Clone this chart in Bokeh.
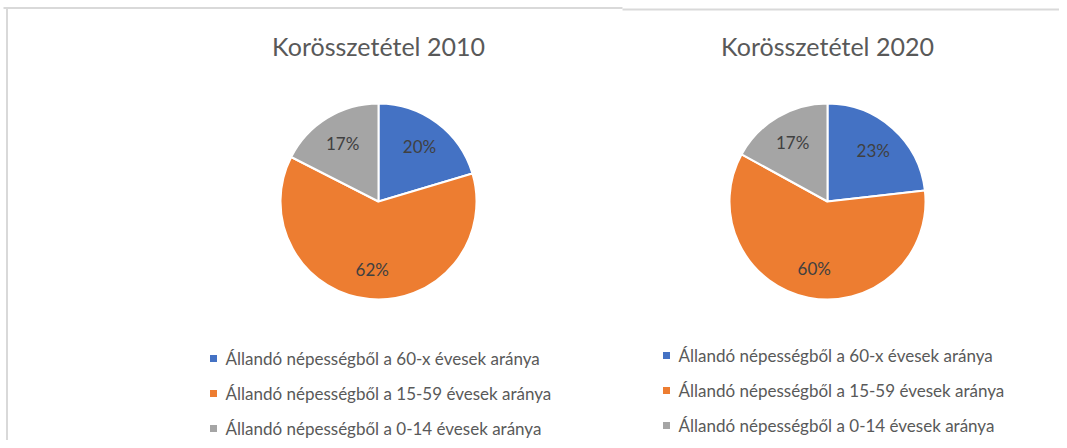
import math
from bokeh.plotting import figure
from bokeh.models import Range1d, ColumnDataSource
from bokeh.core.properties import value
from bokeh.embed import file_html
from bokeh.resources import INLINE

# ---- data ----
categories = [
    "Állandó népességből a 60-x évesek aránya",
    "Állandó népességből a 15-59 évesek aránya",
    "Állandó népességből a 0-14 évesek aránya",
]
colors = ["#4472C4", "#ED7D31", "#A5A5A5"]
titles = ["Korösszetétel 2010", "Korösszetétel 2020"]
values_2010 = [20.4, 62.1, 17.5]
values_2020 = [23.2, 59.8, 17.0]
labels_2010 = ["20%", "62%", "17%"]
labels_2020 = ["23%", "60%", "17%"]

W, H = 1059, 440

p = figure(width=W, height=H, output_backend="svg", toolbar_location=None,
           x_range=Range1d(0, W), y_range=Range1d(0, H),
           min_border=0, outline_line_color=None)
p.axis.visible = False
p.grid.visible = False
p.background_fill_color = "white"
p.border_fill_color = "white"

def Y(img_y):
    return H - img_y

FONT = value("Lato")
GREY_BORDER = "#D9D9D9"

# chart frames (light grey borders)
p.line(x=[3, 622], y=[Y(7.5), Y(7.5)], line_color=GREY_BORDER, line_width=2)
p.line(x=[622, 1067], y=[Y(9), Y(9)], line_color=GREY_BORDER, line_width=2)
p.line(x=[6.5, 6.5], y=[Y(7.5), Y(448)], line_color=GREY_BORDER, line_width=2)

charts = [
    dict(cx=378, cy=201, title=titles[0], vals=values_2010, labs=labels_2010, leg_x=213, leg_y=358),
    dict(cx=827, cy=201, title=titles[1], vals=values_2020, labs=labels_2020, leg_x=666, leg_y=355),
]
R = 98

for ch in charts:
    vals = ch["vals"]
    total = sum(vals)
    cum = 0.0
    starts, ends, lx, ly = [], [], [], []
    for v in vals:
        f0 = cum / total
        cum += v
        f1 = cum / total
        a0 = math.pi / 2 - f0 * 2 * math.pi
        a1 = math.pi / 2 - f1 * 2 * math.pi
        starts.append(a0)
        ends.append(a1)
        mid = (a0 + a1) / 2
        lx.append(ch["cx"] + 0.70 * R * math.cos(mid))
        ly.append(Y(ch["cy"]) + 0.70 * R * math.sin(mid))
    src = ColumnDataSource(dict(start=starts, end=ends, color=colors,
                                lx=lx, ly=ly, lab=ch["labs"]))
    p.wedge(x=ch["cx"], y=Y(ch["cy"]), radius=R, start_angle="start", end_angle="end",
            direction="clock", fill_color="color", line_color="white", line_width=2,
            source=src)
    p.text(x="lx", y="ly", text="lab", source=src, text_font=FONT,
           text_font_size="17px", text_color="#404040",
           text_align="center", text_baseline="middle")
    # title
    p.text(x=[ch["cx"]], y=[Y(45)], text=[ch["title"]], text_font=FONT,
           text_font_size="25px", text_color="#595959",
           text_align="center", text_baseline="middle")
    # legend
    ly_leg = [Y(ch["leg_y"] + i * 35) for i in range(len(categories))]
    p.scatter(x=[ch["leg_x"]] * len(categories), y=ly_leg, marker="square", size=7,
              fill_color=colors, line_color=None)
    p.text(x=[ch["leg_x"] + 12] * len(categories), y=ly_leg, text=categories,
           text_font=FONT, text_font_size="17px", text_color="#595959",
           text_align="left", text_baseline="middle")

open("out.html", "w").write(file_html(p, INLINE))
